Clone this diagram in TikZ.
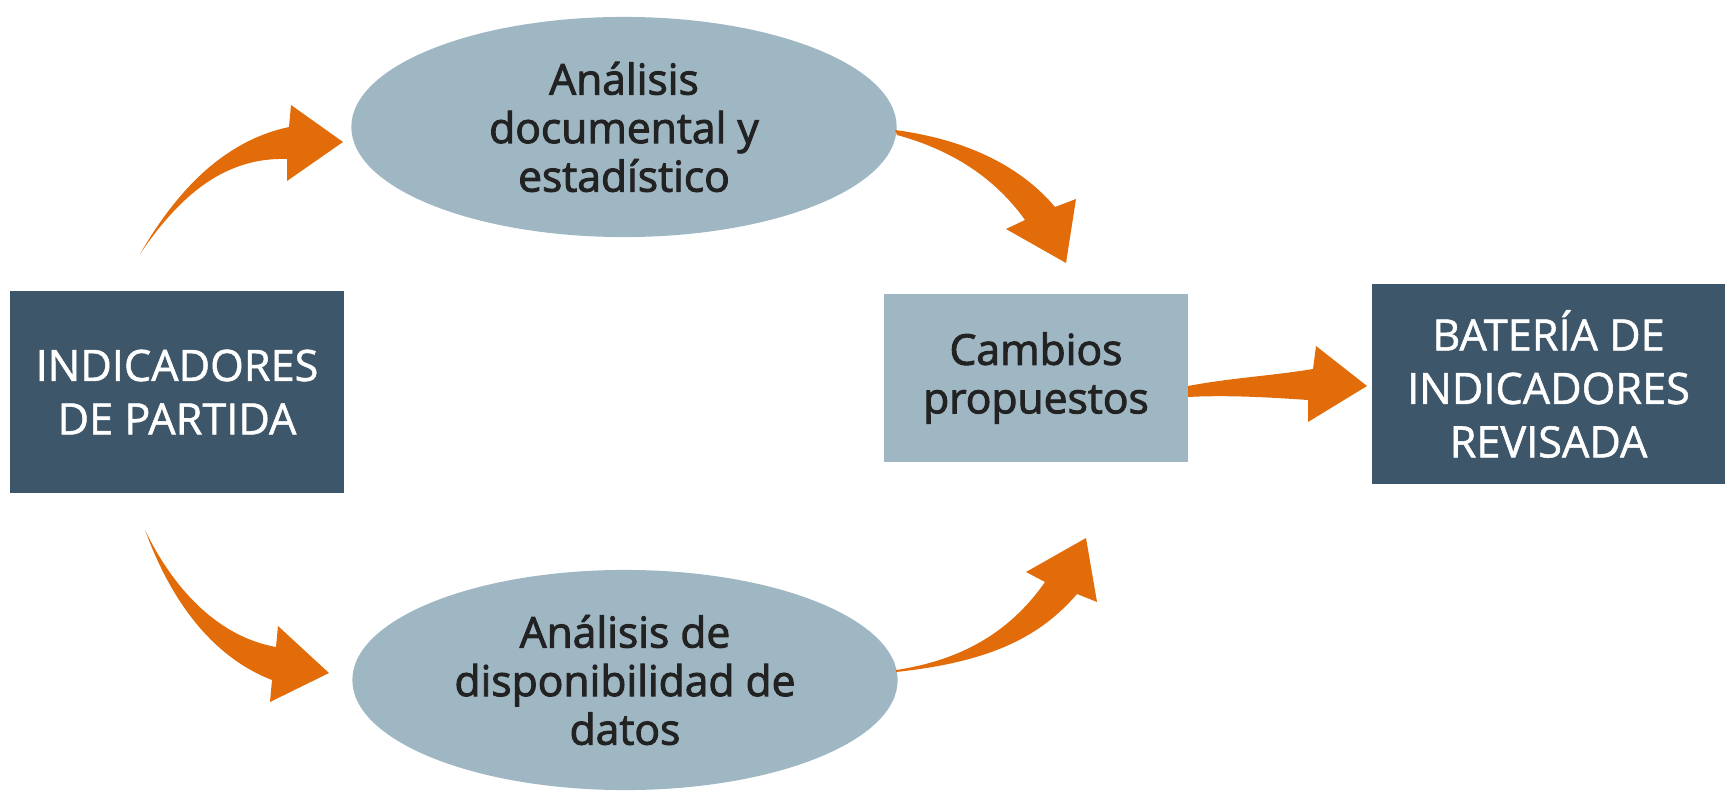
\documentclass[tikz,border=0pt]{standalone}
\usepackage{fontspec}
\setmainfont{Open Sans}
\newfontfamily\darkfont{Open Sans}[FakeBold=2.2]
\newfontfamily\whitefont{Open Sans}[FakeBold=1.2]
\usetikzlibrary{shapes.geometric}
\definecolor{darkbox}{HTML}{3D566A}
\definecolor{lightbox}{HTML}{9EB7C3}
\definecolor{arroworange}{HTML}{E36C0A}
\definecolor{textdark}{HTML}{222222}
\tikzset{
  darkrect/.style={rectangle, fill=darkbox, draw=none, inner sep=0pt, text=white, align=center,
    font=\whitefont\fontsize{12.3}{15.2}\selectfont},
  lightrect/.style={rectangle, fill=lightbox, draw=none, inner sep=0pt, text=textdark, align=center,
    font=\darkfont\fontsize{12.1}{13.8}\selectfont},
  lightell/.style={ellipse, fill=lightbox, draw=none, inner sep=0pt, text=textdark, align=center,
    minimum width=5.45cm, minimum height=2.2cm, font=\darkfont\fontsize{12.1}{13.8}\selectfont},
  blockarrow/.style={fill=arroworange, draw=none}
}
\begin{document}
\begin{tikzpicture}[x=0.01cm, y=-0.01cm]
\useasboundingbox (0,0) rectangle (1725,794);
% nodes
\node[darkrect, minimum width=3.33cm, minimum height=2.01cm] (start) at (177,392) {INDICADORES\\DE PARTIDA};
\node[lightell] (doc) at (624,127) {Análisis\\documental y\\estadístico};
\node[lightell] (disp) at (625,680) {Análisis de\\disponibilidad de\\datos};
\node[lightrect, minimum width=3.04cm, minimum height=1.68cm] (camb) at (1036,378) {Cambios\\propuestos};
\node[darkrect, minimum width=3.53cm, minimum height=2.0cm] (bat) at (1548.5,384) {BATERÍA DE\\INDICADORES\\REVISADA};
% arrow 1: start -> doc
\fill[blockarrow] (140,254) .. controls (180,185) and (228,140) .. (289,127)
  -- (291,105) -- (343,142) -- (287,181) -- (287,159)
  .. controls (225,157) and (180,195) .. (140,254) -- cycle;
% arrow 2: doc -> camb
\fill[blockarrow] (895,130) .. controls (970,140) and (1022,168) .. (1055,207)
  -- (1076,199) -- (1066,263) -- (1006,229) -- (1025,220)
  .. controls (995,178) and (952,150) .. (897,135) -- cycle;
% arrow 3: camb -> bat
\fill[blockarrow] (1188,386) .. controls (1230,378) and (1270,376) .. (1313,369)
  -- (1316,346) -- (1367,386) -- (1308,422) -- (1308,400)
  .. controls (1265,397) and (1225,395) .. (1188,397) -- cycle;
% arrow 4: start -> disp
\fill[blockarrow] (145,530) .. controls (175,612) and (220,660) .. (272,680)
  -- (270,702) -- (329,673) -- (278,626) -- (276,647)
  .. controls (220,637) and (175,592) .. (145,530) -- cycle;
% arrow 5: disp -> camb
\fill[blockarrow] (896,672) .. controls (990,662) and (1040,637) .. (1077,594)
  -- (1097,602) -- (1086,538) -- (1026,572) -- (1045,582)
  .. controls (1010,632) and (962,660) .. (896,670) -- cycle;
\end{tikzpicture}
\end{document}
